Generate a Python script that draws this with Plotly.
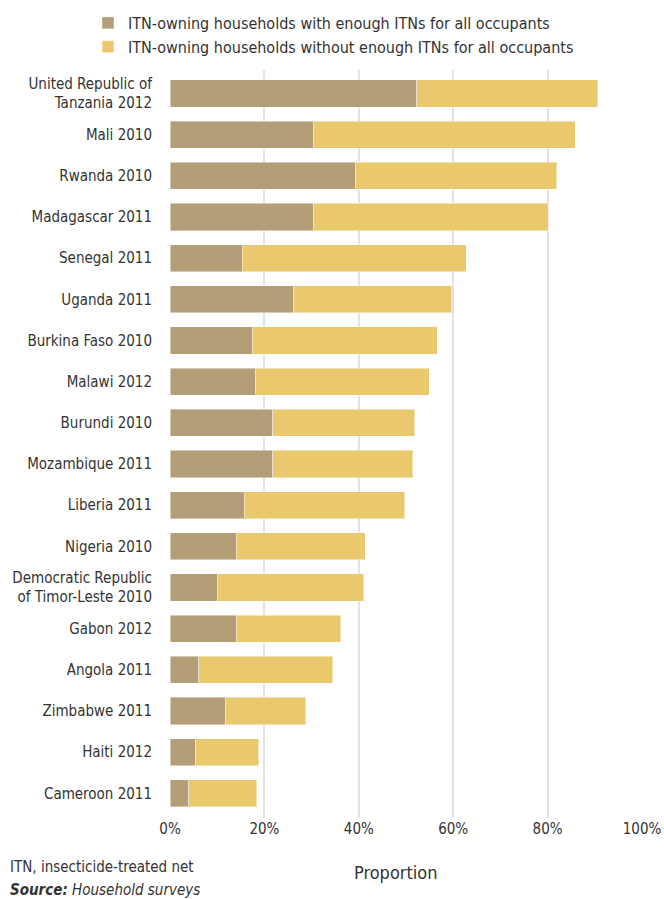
import plotly.graph_objects as go

categories = [
    "United Republic of<br>Tanzania 2012", "Mali 2010", "Rwanda 2010", "Madagascar 2011",
    "Senegal 2011", "Uganda 2011", "Burkina Faso 2010", "Malawi 2012", "Burundi 2010",
    "Mozambique 2011", "Liberia 2011", "Nigeria 2010",
    "Democratic Republic<br>of Timor-Leste 2010", "Gabon 2012", "Angola 2011",
    "Zimbabwe 2011", "Haiti 2012", "Cameroon 2011",
]
enough = [52.3, 30.5, 39.2, 30.5, 15.3, 26.1, 17.4, 18.2, 21.8, 21.8, 15.7, 14.0,
          10.0, 14.0, 6.1, 11.8, 5.3, 4.0]
total = [90.6, 85.9, 81.9, 80.1, 62.8, 59.7, 56.6, 54.9, 51.9, 51.4, 49.7, 41.4,
         41.0, 36.2, 34.5, 28.8, 18.8, 18.4]
not_enough = [round(t - e, 1) for t, e in zip(total, enough)]
x_ticks = [0, 20, 40, 60, 80, 100]
x_ticklabels = ["0%", "20%", "40%", "60%", "80%", "100%"]

FONT = "DejaVu Sans Condensed, Liberation Sans Narrow, Roboto, sans-serif"
TXT = "#333333"

fig = go.Figure()
fig.add_trace(go.Bar(
    y=categories, x=enough, orientation="h",
    name="ITN-owning households with enough ITNs for all occupants",
    marker=dict(color="#B39E77", line=dict(color="rgba(255,255,255,0.45)", width=1)),
))
fig.add_trace(go.Bar(
    y=categories, x=not_enough, orientation="h",
    name="ITN-owning households without enough ITNs for all occupants",
    marker=dict(color="#EAC96E", line=dict(color="rgba(255,255,255,0.45)", width=1)),
))

L, R, T, B = 170, 22, 70, 81
W, H = 664, 899
pw = W - L - R

fig.update_layout(
    barmode="stack",
    bargap=0.34,
    width=W, height=H,
    margin=dict(l=L, r=R, t=T, b=B, autoexpand=False),
    plot_bgcolor="white", paper_bgcolor="white",
    font=dict(family=FONT, size=15, color=TXT),
    legend=dict(
        orientation="v", xref="container", yref="container",
        x=88 / W, xanchor="left", y=1 - 6 / H, yanchor="top",
        font=dict(size=16, color=TXT),
        traceorder="normal", itemwidth=30, tracegroupgap=0,
        bgcolor="rgba(0,0,0,0)",
    ),
    xaxis=dict(
        range=[0, 100], tickvals=x_ticks, ticktext=x_ticklabels,
        showgrid=True, gridcolor="#e3e3e3", gridwidth=1.5,
        zeroline=False, showline=False, ticks="", automargin=False,
        tickfont=dict(size=15, color=TXT),
    ),
    yaxis=dict(
        range=[17.6, -0.57], showgrid=False, ticks="", showline=False,
        automargin=False,
        tickfont=dict(size=15, color=TXT), ticklabelstandoff=17,
    ),
    annotations=[
        dict(text="Proportion", x=(395 - L) / pw, xref="paper", y=0, yref="paper",
             showarrow=False, font=dict(size=18, color=TXT), yanchor="top",
             xanchor="center", yshift=-42),
        dict(text="ITN, insecticide-treated net", xref="paper", yref="paper",
             x=(8 - L) / pw, y=0, xanchor="left", yanchor="top", yshift=-38,
             showarrow=False, font=dict(size=15, color=TXT)),
        dict(text="<b><i>Source:</i></b><i> Household surveys</i>", xref="paper",
             yref="paper", x=(8 - L) / pw, y=0, xanchor="left", yanchor="top",
             yshift=-61, showarrow=False, font=dict(size=15, color=TXT)),
    ],
)

fig.write_html("out.html", config={"displayModeBar": False},
               post_script="document.body.style.margin='0px';document.body.style.overflow='hidden';")
